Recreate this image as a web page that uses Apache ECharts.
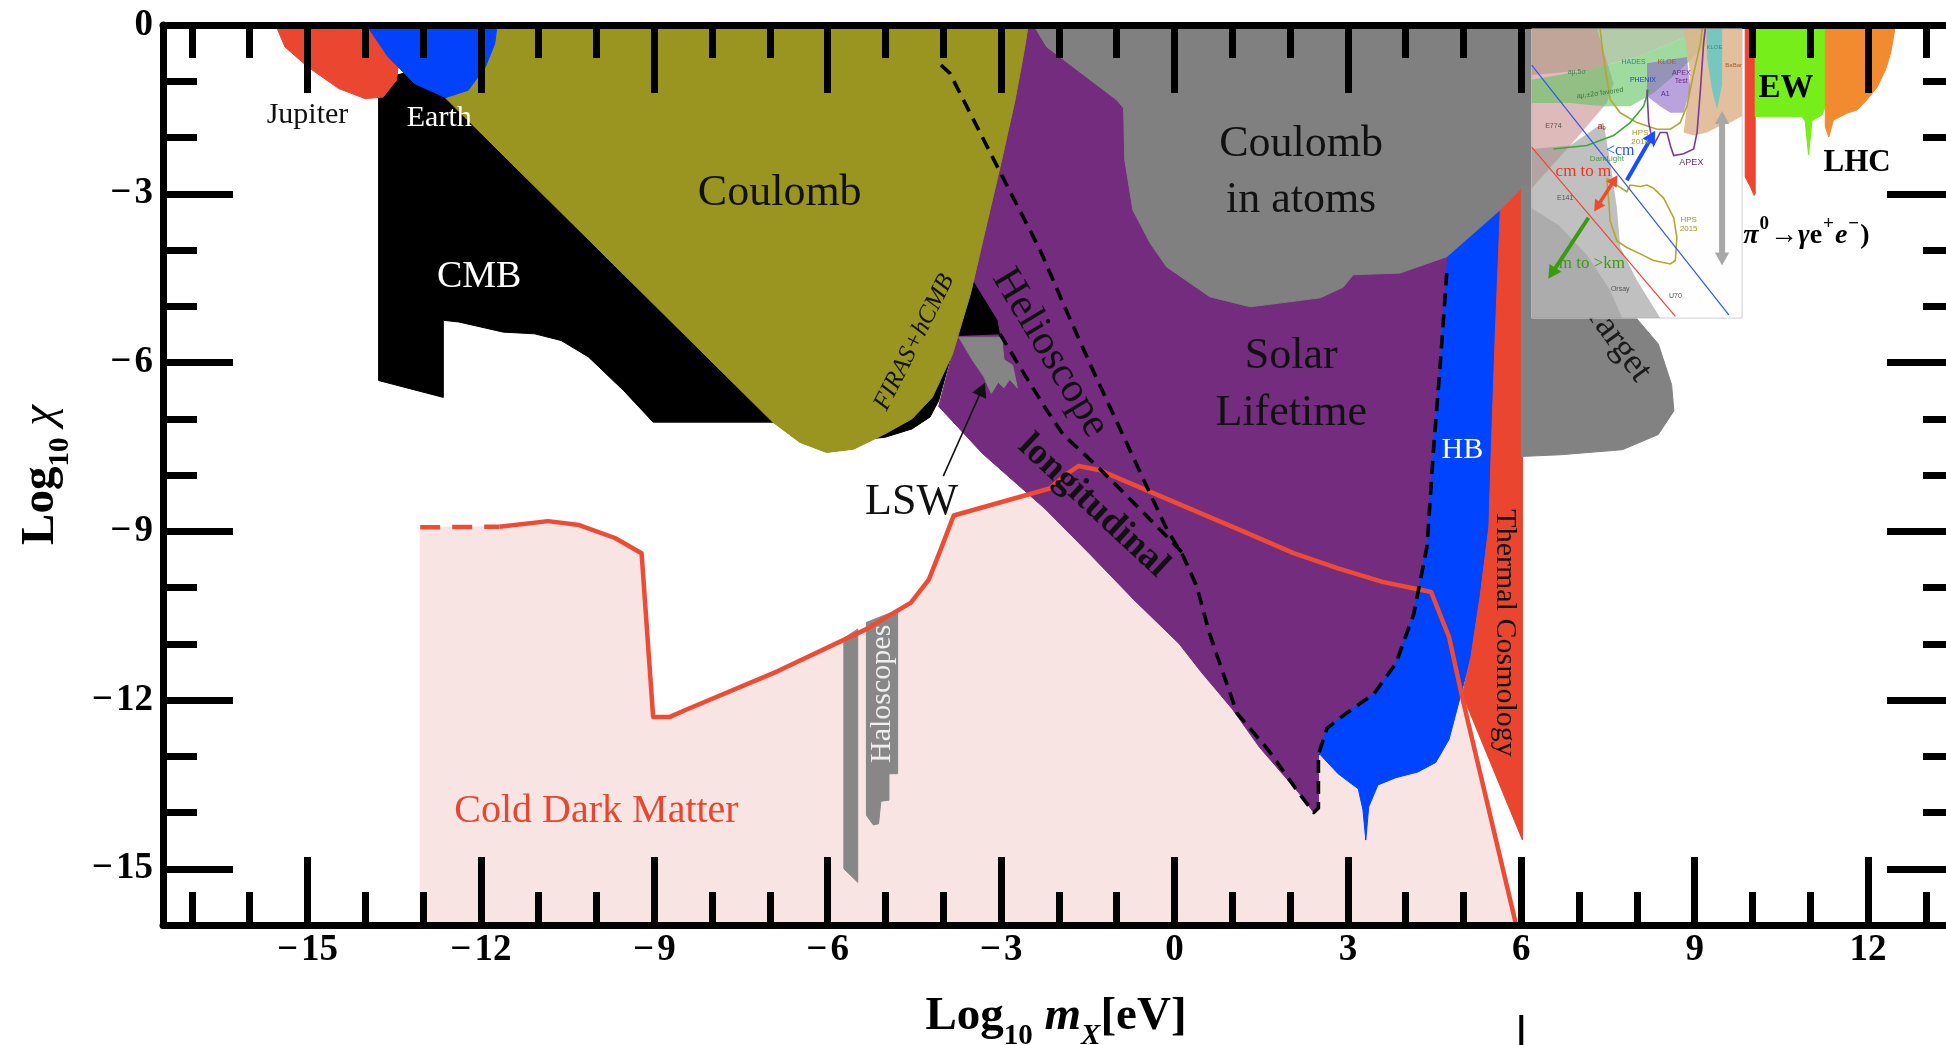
<!DOCTYPE html>
<html>
<head>
<meta charset="utf-8">
<title>Hidden photon parameter space</title>
<script src="https://cdn.jsdelivr.net/npm/echarts@6.0.0/dist/echarts.min.js"></script>
<style>
html,body{margin:0;padding:0;background:#ffffff;}
#chart{width:1946px;height:1045px;}
</style>
</head>
<body>
<div id="chart"></div>
<script>
// ---------------- tick positions ----------------
const xMajorTicks = [-15, -12, -9, -6, -3, 0, 3, 6, 9, 12];
const xMinorTicks = [-17, -16, -14, -13, -11, -10, -8, -7, -5, -4, -2, -1, 1, 2, 4, 5, 7, 8, 10, 11, 13];
const yMajorTicks = [-15, -12, -9, -6, -3, 0];
const yMinorTicks = [-14, -13, -11, -10, -8, -7, -5, -4, -2, -1];

// ---------------- regions: [log10 m_X (eV), log10 chi] ----------------
const jupiter = [[-15.55,0],[-15.39,-0.39],[-15.0,-0.74],[-14.46,-1.13],[-14.0,-1.31],[-13.69,-1.28],[-13.46,-0.98],[-13.4,-0.5],[-13.5,0]];
const earth = [[-13.95,0],[-13.92,-0.09],[-13.61,-0.56],[-13.15,-1.04],[-12.61,-1.29],[-12.22,-1.16],[-11.92,-0.74],[-11.76,-0.33],[-11.72,0]];
const cmb = [[-13.77,-1.2],[-13.5,-0.9],[-13.3,-0.85],[-12.6,-1.1],[-8,-1],[-4.5,-3],[-3.46,-4.6],[-3.07,-5.25],[-3.03,-5.49],[-3.77,-5.52],[-3.92,-6.08],[-4.08,-6.68],[-4.23,-6.97],[-4.54,-7.18],[-5.01,-7.33],[-5.32,-7.36],[-6.5,-7.06],[-9.02,-7.06],[-9.53,-6.5],[-10.14,-5.9],[-10.61,-5.61],[-11.07,-5.49],[-11.61,-5.46],[-12.38,-5.28],[-12.65,-5.25],[-12.65,-6.62],[-13.77,-6.32]];
const coulomb = [[-11.72,0],[-2.53,0],[-2.6,-0.45],[-2.76,-1.34],[-2.99,-2.4],[-3.22,-3.41],[-3.53,-4.78],[-3.84,-5.85],[-4.19,-6.62],[-4.54,-7.0],[-5.01,-7.27],[-5.55,-7.54],[-6.02,-7.6],[-6.48,-7.42],[-6.95,-7.06],[-12.61,-1.3],[-12.2,-1.1],[-11.9,-0.7],[-11.75,-0.3]];
const solarLifetime = [[-2.53,0],[-2.3,0],[0,-1.2],[3,-3.0],[4.75,-3.9],[4.71,-4.41],[4.6,-6.0],[4.48,-7.57],[4.37,-9.26],[4.14,-10.47],[3.83,-11.35],[3.45,-11.89],[2.98,-12.23],[2.64,-12.5],[2.49,-12.97],[2.49,-13.92],[2.41,-14.0],[2.15,-13.65],[1.47,-12.84],[1.0,-12.16],[0.46,-11.5],[0.08,-11.0],[-0.7,-10.22],[-1.47,-9.4],[-2.24,-8.6],[-3.32,-7.62],[-4.08,-6.78],[-3.84,-5.85],[-3.53,-4.78],[-3.22,-3.41],[-2.99,-2.4],[-2.76,-1.34],[-2.6,-0.45]];
const coulombAtoms = [[-2.44,0],[-2.21,-0.39],[-0.99,-1.34],[-0.88,-1.48],[-0.86,-2.4],[-0.72,-3.29],[-0.42,-3.88],[-0.135,-4.3],[0.61,-4.83],[1.31,-5.01],[2.52,-4.85],[2.92,-4.66],[3.09,-4.44],[3.9,-4.41],[4.71,-4.12],[5.63,-3.29],[6.03,-2.87],[6.25,-2.85],[6.25,0]];
const fixedTarget = [[6.0,-2.85],[6.25,-2.85],[6.25,-5.2],[7.98,-5.2],[8.37,-5.67],[8.6,-6.39],[8.64,-6.86],[8.37,-7.28],[7.75,-7.55],[6.68,-7.64],[6.0,-7.67]];
const horizontalBranch = [[2.49,-12.97],[2.64,-12.5],[2.98,-12.23],[3.45,-11.89],[3.83,-11.35],[4.14,-10.47],[4.37,-9.26],[4.48,-7.57],[4.6,-6.0],[4.71,-4.41],[4.73,-4.0],[5.7,-3.0],[5.55,-5.5],[5.48,-7.57],[5.44,-8.92],[5.29,-10.14],[5.13,-11.22],[4.94,-11.96],[4.75,-12.7],[4.52,-13.11],[4.21,-13.28],[3.83,-13.38],[3.52,-13.51],[3.36,-13.9],[3.31,-14.49],[3.26,-13.95],[3.18,-13.58],[2.83,-13.31],[2.52,-12.97]];
const thermalCosmology = [[5.64,-3.2],[6.02,-2.85],[6.02,-14.49],[4.98,-11.9],[5.13,-11.22],[5.29,-10.14],[5.44,-8.92],[5.48,-7.57],[5.55,-5.5]];
const lswRegion = [[-3.73,-5.55],[-2.99,-5.55],[-2.95,-5.95],[-2.8,-6.05],[-2.72,-6.45],[-2.85,-6.3],[-2.95,-6.45],[-3.05,-6.35],[-3.17,-6.55],[-3.3,-6.25],[-3.5,-5.95]];
const haloscopeA = [[-5.72,-10.9],[-5.48,-10.74],[-5.48,-15.24],[-5.6,-15.12],[-5.72,-15.0]];
const haloscopeB = [[-5.33,-10.62],[-4.79,-10.4],[-4.79,-13.31],[-4.94,-13.31],[-4.94,-13.78],[-5.08,-13.8],[-5.12,-14.2],[-5.21,-14.22],[-5.33,-14.05]];
const electroweak = [[10.047,0],[11.26,0],[11.26,-1.45],[11.2,-1.6],[11.03,-1.7],[10.97,-2.31],[10.91,-1.7],[10.85,-1.63],[10.047,-1.63]];
const lhc = [[11.26,0],[12.47,0],[12.45,-0.15],[12.39,-0.5],[12.3,-0.8],[12.16,-1.1],[11.98,-1.33],[11.81,-1.51],[11.63,-1.57],[11.52,-1.63],[11.4,-1.69],[11.32,-1.99],[11.26,-1.81]];
const pionDecay = [[9.874,0],[10.047,0],[10.047,-3.0],[10.03,-3.03],[9.96,-2.87],[9.874,-2.7]];

// ---------------- curves ----------------
const cdmDashed = [[-13.05,-8.93],[-11.68,-8.92]];
const cdmLine = [[-11.68,-8.92],[-10.84,-8.82],[-10.3,-8.89],[-9.68,-9.12],[-9.22,-9.39],[-9.02,-12.3],[-8.73,-12.3],[-8.42,-12.16],[-6.87,-11.49],[-5.33,-10.74],[-4.56,-10.27],[-4.25,-9.86],[-4.02,-9.26],[-3.82,-8.72],[-2.16,-8.24],[-1.85,-7.97],[-1.66,-7.84],[-1.31,-7.91],[1.3,-9.05],[2.06,-9.39],[2.83,-9.66],[3.6,-9.9],[4.21,-10.03],[4.44,-10.08],[4.75,-10.88],[4.98,-11.96],[5.9,-15.95]];
const helioscopeTransverse = [[-4.04,-0.71],[-3.885,-0.86],[-2.99,-2.67],[-2.33,-3.99],[-1.87,-5.08],[-1.46,-6.03],[-1.0,-7.05],[-0.54,-8.07],[-0.135,-8.96],[0.154,-9.45],[0.385,-9.98],[0.6,-10.8],[0.85,-11.55],[1.08,-12.23],[1.63,-12.9],[2.15,-13.65],[2.41,-14.0],[2.49,-13.92],[2.49,-12.97],[2.64,-12.5],[2.98,-12.23],[3.45,-11.89],[3.83,-11.35],[4.14,-10.47],[4.37,-9.26],[4.48,-7.57],[4.6,-6.0],[4.71,-4.41]];
const helioscopeLongitudinal = [[-3.02,-5.49],[-2.62,-6.17],[-2.21,-6.85],[-1.92,-7.29],[-1.52,-7.67],[-1.115,-8.07],[-0.654,-8.55],[-0.192,-9.03],[0.154,-9.4]];
const lswArrow = [[-4.0,-8.02],[-3.28,-6.36]];

// ---------------- text labels ----------------
const regionLabels = [
  ['Jupiter', -15.0, -1.6], ['Earth', -12.72, -1.66], ['CMB', -12.03, -4.48],
  ['Coulomb', -6.83, -3.0], ['FIRAS+hCMB', -4.5, -5.64], ['Helioscope', -2.15, -5.83],
  ['longitudinal', -1.4, -8.55], ['LSW', -4.55, -8.48], ['Coulomb', 2.19, -2.12],
  ['in atoms', 2.19, -3.12], ['Solar', 2.02, -5.9], ['Lifetime', 2.02, -6.9],
  ['HB', 4.98, -7.55], ['Thermal Cosmology', 5.71, -10.81], ['Haloscopes', -5.06, -11.89],
  ['Cold Dark Matter', -10.0, -13.99], ['Target', 7.66, -5.62], ['EW', 10.58, -1.12],
  ['LHC', 11.81, -2.45], ['π0→γe+e−)', 9.84, -3.64]
];

// ---------------- inset (embedded figure), local coords u,v in [0,1] ----------------
const insetBox = [6.18, 9.82, -0.07, -5.21];
const insetTopTint = [[0,0],[0.833,0],[0.69,0.04],[0.5,0.097],[0.262,0.142],[0,0.159]];
const insetPink = [[0,0],[0.31,0],[0.389,0.188],[0.357,0.256],[0.183,0.403],[0,0.551]];
const insetGray = [[0,0.415],[0.183,0.403],[0.341,0.324],[0.373,0.46],[0.405,0.619],[0.421,0.756],[0.5,0.869],[0.611,1],[0,1]];
const insetGrayBand = [[0,0.62],[0.13,0.68],[0.26,0.78],[0.37,0.9],[0.43,1],[0,1]];
const insetGreen = [[0,0.176],[0.262,0.142],[0.5,0.097],[0.69,0.04],[0.833,0],[0.881,0],[0.833,0.051],[0.69,0.153],[0.579,0.222],[0.468,0.267],[0.341,0.267],[0.183,0.256],[0,0.256]];
const insetTan = [[0.722,0],[1,0],[1,0.301],[0.944,0.324],[0.897,0.335],[0.833,0.358],[0.77,0.369],[0.722,0.358],[0.738,0.267],[0.754,0.153]];
const insetPurple = [[0.548,0.119],[0.738,0.097],[0.754,0.21],[0.722,0.29],[0.659,0.29],[0.611,0.267],[0.548,0.233]];
const insetCyan = [[0.833,0],[0.905,0],[0.905,0.193],[0.881,0.278],[0.857,0.21],[0.833,0.097]];
const insetHps2014 = [[0.325,0],[0.341,0.097],[0.373,0.244],[0.421,0.29],[0.5,0.324],[0.595,0.347],[0.659,0.347],[0.706,0.324],[0.738,0.267],[0.77,0.153],[0.802,0.051],[0.81,0]];
const insetHps2015 = [[0.357,0.517],[0.405,0.54],[0.452,0.563],[0.468,0.54],[0.516,0.545],[0.548,0.54],[0.579,0.551],[0.627,0.585],[0.675,0.653],[0.69,0.722],[0.683,0.801],[0.659,0.813],[0.579,0.801],[0.516,0.778],[0.452,0.756],[0.405,0.733],[0.373,0.665],[0.365,0.585],[0.357,0.517]];
const insetDarkLight = [[0.103,0.415],[0.262,0.403],[0.389,0.369],[0.468,0.324],[0.532,0.267],[0.556,0.21]];
const insetApex = [[0.548,0.21],[0.556,0.324],[0.579,0.403],[0.611,0.358],[0.643,0.358],[0.659,0.403],[0.675,0.438],[0.722,0.432],[0.77,0.415],[0.786,0.358],[0.802,0.21],[0.817,0.051],[0.825,0]];
const insetBlueLine = [[0,0.125],[0.937,0.989]];
const insetRedLine = [[0,0.409],[0.683,0.994]];
const insetArrowBlue = [[0.452,0.523],[0.587,0.352]];
const insetArrowRed = [[0.297,0.631],[0.408,0.506]];
const insetArrowGreen = [[0.27,0.653],[0.079,0.864]];
const insetArrowGray = [[0.905,0.284],[0.905,0.818]];
const insetTexts = [
  ['<cm',0.421,0.42], ['cm to m',0.246,0.492], ['m to >km',0.286,0.81], ['DarkLight',0.357,0.449],
  ['HPS\n2014',0.516,0.375], ['HPS\n2015',0.746,0.676], ['APEX',0.759,0.463], ['E774',0.103,0.335],
  ['aₑ',0.333,0.338], ['E141',0.159,0.585], ['Orsay',0.421,0.901], ['U70',0.683,0.924],
  ['HADES',0.484,0.114], ['KLOE',0.643,0.114], ['PHENIX',0.529,0.178], ['A1',0.635,0.224],
  ['APEX\nTest',0.711,0.165], ['KLOE ',0.873,0.065], ['BaBar',0.96,0.125], ['aμ,5σ',0.214,0.148],
  ['aμ,±2σ favored',0.325,0.222]
];

// =============== rendering ===============
const SERIF = '"Liberation Serif","Times New Roman",serif';
const SANS = '"Liberation Sans",Arial,sans-serif';

const labelStyle = {
  'Jupiter': {size:30, color:'#111'},
  'Earth': {size:30, color:'#ffffff'},
  'CMB': {size:38, color:'#ffffff'},
  'Coulomb': {size:44, color:'#111'},
  'FIRAS+hCMB': {size:25, color:'#111', style:'italic', rot:63},
  'Helioscope': {size:42, color:'#111', rot:-59},
  'longitudinal': {size:37, color:'#111', weight:'bold', rot:-43},
  'LSW': {size:44, color:'#111'},
  'in atoms': {size:44, color:'#111'},
  'Solar': {size:44, color:'#111'},
  'Lifetime': {size:44, color:'#111'},
  'HB': {size:30, color:'#ffffff'},
  'Thermal Cosmology': {size:30, color:'#111', rot:-90},
  'Haloscopes': {size:30, color:'#eeeeee', rot:90},
  'Cold Dark Matter': {size:40, color:'#E8472F'},
  'Target': {size:36, color:'#1a1a1a', rot:-54},
  'EW': {size:33, color:'#000', weight:'bold'},
  'LHC': {size:31, color:'#000', weight:'bold'},
  'π0→γe+e−)': {size:28, color:'#000', weight:'bold', align:'left',
    rich: '{i|π}{p|0}{u|→}{i|γ}{u|e}{p|+}{i|e}{p|−}{u|)}'}
};

const richPi = {
  i: {font: 'italic bold 28px ' + SERIF, fill: '#000', verticalAlign: 'top', lineHeight: 30, padding: [7, 0, 0, 0]},
  u: {font: 'bold 28px ' + SERIF, fill: '#000', verticalAlign: 'top', lineHeight: 30, padding: [7, 0, 0, 0]},
  p: {font: 'bold 19px ' + SERIF, fill: '#000', verticalAlign: 'top', lineHeight: 20, padding: [0, 1, 0, 1]}
};

const insetTextStyle = {
  '<cm': {size:16, color:'#2255ff', fam:SERIF},
  'cm to m': {size:17, color:'#ee3322', fam:SERIF},
  'm to >km': {size:17, color:'#3a9a10', fam:SERIF},
  'DarkLight': {size:8, color:'#3f9f3f'},
  'HPS\n2014': {size:8, color:'#a09a20'},
  'HPS\n2015': {size:8, color:'#a09a20'},
  'APEX': {size:9, color:'#6a2a80'},
  'E774': {size:7, color:'#555'},
  'aₑ': {size:9, color:'#b03030'},
  'E141': {size:7, color:'#555'},
  'Orsay': {size:7, color:'#555'},
  'U70': {size:7, color:'#555'},
  'HADES': {size:7, color:'#3a8a8a'},
  'KLOE': {size:7, color:'#a0602a'},
  'PHENIX': {size:7, color:'#2244aa'},
  'A1': {size:7, color:'#4a2a90'},
  'APEX\nTest': {size:7, color:'#6a2a80'},
  'KLOE ': {size:6, color:'#3a8a8a'},
  'BaBar': {size:6, color:'#a0602a'},
  'aμ,5σ': {size:7, color:'#3a8a5a'},
  'aμ,±2σ favored': {size:7, color:'#3a7a3a', rot:8}
};

function pts(api, arr) { return arr.map(p => api.coord(p)); }

function polySeries(name, arr, color, z) {
  return {
    type: 'custom', name: name, z: z, silent: true, clip: true,
    data: [[arr[0][0], arr[0][1]]],
    renderItem: function (params, api) {
      return {type: 'polygon', shape: {points: pts(api, arr)},
              style: {fill: color, stroke: color, lineWidth: 1}};
    }
  };
}

function lineSeries(name, arr, color, width, dash, z) {
  return {
    type: 'custom', name: name, z: z, silent: true, clip: true,
    data: [[arr[0][0], arr[0][1]]],
    renderItem: function (params, api) {
      return {type: 'polyline', shape: {points: pts(api, arr)},
              style: {stroke: color, lineWidth: width, lineDash: dash || null, fill: null, lineJoin: 'round', lineCap: 'butt'}};
    }
  };
}

function arrowEls(a, b, color, w, head, both) {
  const dx = b[0] - a[0], dy = b[1] - a[1], L = Math.hypot(dx, dy);
  const ux = dx / L, uy = dy / L, hw = head * 0.55;
  const tri = (t, ex, ey) => [[t[0], t[1]],
    [t[0] - ex * head - ey * hw, t[1] - ey * head + ex * hw],
    [t[0] - ex * head + ey * hw, t[1] - ey * head - ex * hw]];
  const s = both ? [a[0] + ux * head * 0.8, a[1] + uy * head * 0.8] : a;
  const e = [b[0] - ux * head * 0.8, b[1] - uy * head * 0.8];
  const els = [
    {type: 'line', shape: {x1: s[0], y1: s[1], x2: e[0], y2: e[1]}, style: {stroke: color, lineWidth: w}},
    {type: 'polygon', shape: {points: tri(b, ux, uy)}, style: {fill: color}}
  ];
  if (both) els.push({type: 'polygon', shape: {points: tri(a, -ux, -uy)}, style: {fill: color}});
  return els;
}

const pinkFill = cdmDashed.concat(cdmLine.slice(1), [[cdmLine[cdmLine.length - 1][0], -16], [cdmDashed[0][0], -16]]);

const series = [
  polySeries('Cold Dark Matter', pinkFill, '#F9E4E4', 1),
  polySeries('Haloscopes A', haloscopeA, '#878787', 2),
  polySeries('Haloscopes B', haloscopeB, '#878787', 2),
  polySeries('Solar Lifetime', solarLifetime, '#742C7E', 3),
  polySeries('LSW', lswRegion, '#858585', 4),
  polySeries('CMB', cmb, '#000000', 5),
  polySeries('Coulomb', coulomb, '#9A9421', 6),
  polySeries('Jupiter', jupiter, '#EA4630', 7),
  polySeries('Earth', earth, '#0342FB', 7),
  polySeries('HB', horizontalBranch, '#0044FF', 8),
  polySeries('Thermal Cosmology', thermalCosmology, '#E9452F', 9),
  polySeries('Coulomb in atoms', coulombAtoms, '#808080', 10),
  polySeries('Fixed target', fixedTarget, '#828282', 10),
  polySeries('pi0 decay', pionDecay, '#EE4530', 10),
  polySeries('EW', electroweak, '#76EE1A', 10),
  polySeries('LHC', lhc, '#F28A30', 10),
  lineSeries('CDM dashed', cdmDashed, '#EE4B35', 4.5, [20, 12], 12),
  lineSeries('CDM', cdmLine, '#EE4B35', 4.5, null, 12),
  lineSeries('Helioscope', helioscopeTransverse, '#000', 3.6, [13, 8], 13),
  lineSeries('Helioscope longitudinal', helioscopeLongitudinal, '#000', 3.6, [13, 8], 13),
  {
    type: 'custom', name: 'LSW arrow', z: 14, silent: true, clip: false,
    data: [[lswArrow[0][0], lswArrow[0][1]]],
    renderItem: function (params, api) {
      const a = api.coord(lswArrow[0]), b = api.coord(lswArrow[1]);
      const base = api.coord([6, -16]);
      return {type: 'group', children: arrowEls(a, b, '#111', 1.6, 14, false).concat([
        {type: 'line', shape: {x1: base[0], y1: base[1] + 90, x2: base[0], y2: base[1] + 125}, style: {stroke: '#000', lineWidth: 4}}
      ])};
    }
  },
  {
    type: 'custom', name: 'labels', z: 40, silent: true, clip: false,
    data: regionLabels.map(r => [r[1], r[2]]),
    renderItem: function (params, api) {
      const r = regionLabels[params.dataIndex];
      const st = labelStyle[r[0]] || {size: 30, color: '#111'};
      const p = api.coord([r[1], r[2]]);
      const style = {
        text: st.rich || r[0], fill: st.color,
        font: (st.style || 'normal') + ' ' + (st.weight || 'normal') + ' ' + st.size + 'px ' + SERIF,
        align: st.align || 'center', verticalAlign: 'middle'
      };
      if (st.rich) style.rich = richPi;
      return {type: 'text', x: p[0], y: p[1], rotation: (st.rot || 0) * Math.PI / 180, style: style};
    }
  },
  {
    type: 'custom', name: 'inset', z: 60, silent: true, clip: false,
    data: [[insetBox[0], insetBox[2]]],
    renderItem: function (params, api) {
      const P = q => api.coord([insetBox[0] + q[0] * (insetBox[1] - insetBox[0]), insetBox[2] + q[1] * (insetBox[3] - insetBox[2])]);
      const poly = (arr, fill) => ({type: 'polygon', shape: {points: arr.map(P)}, style: {fill: fill}});
      const line = (arr, stroke, w) => ({type: 'polyline', shape: {points: arr.map(P)}, style: {stroke: stroke, lineWidth: w, fill: null}});
      const tl = P([0, 0]), br = P([1, 1]);
      let ch = [
        {type: 'rect', shape: {x: tl[0], y: tl[1], width: br[0] - tl[0], height: br[1] - tl[1]}, style: {fill: '#fefefe', stroke: '#d0d0d0', lineWidth: 1}},
        poly(insetTopTint, 'rgba(140,175,125,0.65)'),
        poly(insetPink, 'rgba(200,140,140,0.6)'),
        poly(insetGray, 'rgba(150,150,150,0.6)'),
        poly(insetGrayBand, 'rgba(110,110,110,0.25)'),
        poly(insetGreen, 'rgba(95,195,95,0.6)'),
        poly(insetTan, 'rgba(222,180,140,0.85)'),
        poly(insetPurple, 'rgba(140,100,200,0.6)'),
        poly(insetCyan, 'rgba(100,200,200,0.85)'),
        line(insetHps2014, '#b0a830', 1.6),
        line(insetHps2015, '#b0a830', 1.6),
        line(insetDarkLight, '#3aaa3a', 1.6),
        line(insetApex, '#7a3a9a', 1.6),
        line(insetBlueLine, '#3355ee', 1.2),
        line(insetRedLine, '#ee4433', 1.2)
      ];
      ch = ch.concat(arrowEls(P(insetArrowBlue[0]), P(insetArrowBlue[1]), '#1a4cff', 4, 13, false));
      ch = ch.concat(arrowEls(P(insetArrowRed[0]), P(insetArrowRed[1]), '#f04a2a', 3.5, 11, true));
      ch = ch.concat(arrowEls(P(insetArrowGreen[0]), P(insetArrowGreen[1]), '#3c9a10', 4, 13, false));
      ch = ch.concat(arrowEls(P(insetArrowGray[0]), P(insetArrowGray[1]), '#a8a8a8', 6, 13, true));
      insetTexts.forEach(t => {
        const st = insetTextStyle[t[0]];
        const p = P([t[1], t[2]]);
        ch.push({type: 'text', x: p[0], y: p[1], rotation: (st.rot || 0) * Math.PI / 180,
          style: {text: t[0], fill: st.color, font: st.size + 'px ' + (st.fam || SANS), align: 'center', verticalAlign: 'middle', lineHeight: st.size + 1}});
      });
      return {type: 'group', children: ch};
    }
  }
];

const minusFmt = v => (v < 0 ? '\u2212\u200A' + Math.abs(v) : String(v));
const tickLine = {color: '#000', width: 7};

function xAxisDef(pos, ticks, len, showLine, showLabel, extra) {
  return Object.assign({
    type: 'value', min: -17.5, max: 13.4, position: pos, z: 50,
    axisLine: {show: showLine, onZero: false, lineStyle: {color: '#000', width: 7}},
    axisTick: {show: true, inside: true, length: len, customValues: ticks, lineStyle: tickLine},
    axisLabel: {show: showLabel, customValues: ticks, formatter: minusFmt, color: '#000',
                fontFamily: SERIF, fontWeight: 'bold', fontSize: 37, margin: 7},
    splitLine: {show: false}
  }, extra || {});
}
function yAxisDef(pos, ticks, len, showLine, showLabel, extra) {
  return Object.assign({
    type: 'value', min: -16, max: 0, position: pos, z: 50,
    axisLine: {show: showLine, onZero: false, lineStyle: {color: '#000', width: 7}},
    axisTick: {show: true, inside: true, length: len, customValues: ticks, lineStyle: tickLine},
    axisLabel: {show: showLabel, customValues: ticks, formatter: minusFmt, color: '#000',
                fontFamily: SERIF, fontWeight: 'bold', fontSize: 37, margin: 10},
    splitLine: {show: false}
  }, extra || {});
}

const titleRich = {
  a: {fontFamily: SERIF, fontWeight: 'bold', fontSize: 47, color: '#000', verticalAlign: 'top', lineHeight: 54},
  s: {fontFamily: SERIF, fontWeight: 'bold', fontSize: 29, color: '#000', verticalAlign: 'top', lineHeight: 29, padding: [29, 0, 0, 0]},
  i: {fontFamily: SERIF, fontWeight: 'bold', fontStyle: 'italic', fontSize: 47, color: '#000', verticalAlign: 'top', lineHeight: 54},
  j: {fontFamily: SERIF, fontWeight: 'bold', fontStyle: 'italic', fontSize: 29, color: '#000', verticalAlign: 'top', lineHeight: 29, padding: [29, 0, 0, 0]},
  c: {fontFamily: SERIF, fontStyle: 'italic', fontSize: 47, color: '#000', verticalAlign: 'top', lineHeight: 54}
};

const option = {
  animation: false,
  backgroundColor: '#ffffff',
  grid: {left: 163, top: 25, width: 1786, height: 900, containLabel: false, outerBoundsMode: 'none'},
  xAxis: [
    xAxisDef('bottom', xMajorTicks, 68, true, true, {
      name: '{a|Log}{s|10}{a| }{i|m}{j|X}{a|[eV]}', nameLocation: 'middle', nameGap: 68,
      nameTextStyle: {rich: titleRich}
    }),
    xAxisDef('bottom', xMinorTicks, 33, false, false),
    xAxisDef('top', xMajorTicks, 68, true, false),
    xAxisDef('top', xMinorTicks, 33, false, false)
  ],
  yAxis: [
    yAxisDef('left', yMajorTicks, 70, true, true, {
      name: '{a|Log}{s|10}{a| }{c|χ}', nameLocation: 'middle', nameGap: 92, nameRotate: 90,
      nameTextStyle: {rich: titleRich}
    }),
    yAxisDef('left', yMinorTicks, 34, false, false),
    yAxisDef('right', yMajorTicks, 62, true, false),
    yAxisDef('right', yMinorTicks, 26, false, false)
  ],
  series: series
};

const chart = echarts.init(document.getElementById('chart'), null, {renderer: 'canvas'});
chart.setOption(option);
</script>
</body>
</html>
